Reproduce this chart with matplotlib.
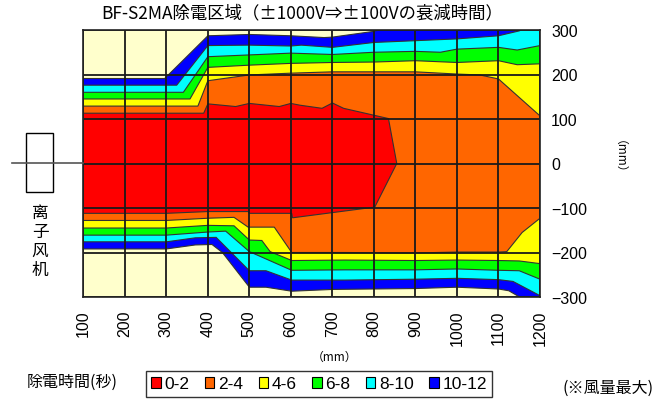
import matplotlib
matplotlib.use("Agg")
import matplotlib.pyplot as plt
import numpy as np
from matplotlib.patches import Patch, Rectangle
from matplotlib.lines import Line2D

plt.rcParams['font.family'] = ['Noto Sans CJK JP', 'DejaVu Sans']

# ---------------- data ----------------
levels = ['0-2', '2-4', '4-6', '6-8', '8-10', '10-12']
colors = ['#FF0000', '#FF6600', '#FFFF00', '#00FF00', '#00FFFF', '#0000FF']
x_ticks = [100, 200, 300, 400, 500, 600, 700, 800, 900, 1000, 1100, 1200]
y_ticks = [300, 200, 100, 0, -100, -200, -300]

# 0-2 s region (red)
red_top_x = [100, 390, 400, 467, 500, 572, 600, 622, 675, 700, 727, 835, 855]
red_top_y = [113, 113, 134, 128, 135, 128, 135, 131, 124, 136, 124, 101, 0]
red_bot_x = [100, 300, 400, 497, 500, 602, 604, 703, 802]
red_bot_y = [-112, -112, -108, -108, -112, -112, -122, -110, -98]

# 2-4 s region (orange)
orange_top_x = [100, 376, 400, 500, 600, 700, 900, 1000, 1055, 1100, 1200]
orange_top_y = [129, 129, 186, 199, 203, 206, 206, 201, 199, 190, 107]
orange_bot_x = [100, 300, 400, 463, 497, 560, 602, 730, 900, 1000, 1100, 1120, 1157, 1200]
orange_bot_y = [-128, -128, -123, -121, -143, -143, -200, -200, -201, -199, -199, -198, -155, -123]

# 4-6 s region (yellow)
yellow_top_x = [100, 357, 400, 500, 600, 700, 800, 900, 1000, 1100, 1145, 1200]
yellow_top_y = [145, 145, 216, 221, 225, 227, 228, 231, 227, 231, 222, 224]
yellow_bot_x = [100, 300, 400, 463, 500, 530, 550, 602, 730, 900, 1000, 1100, 1150, 1200]
yellow_bot_y = [-145, -145, -139, -140, -172, -173, -198, -218, -217, -218, -217, -218, -219, -225]

# 6-8 s region (green)
green_top_x = [100, 341, 400, 500, 600, 700, 800, 900, 960, 1000, 1100, 1145, 1200]
green_top_y = [160, 160, 240, 244, 248, 245, 250, 252, 250, 257, 261, 255, 265]
green_bot_x = [100, 300, 400, 443, 500, 602, 730, 900, 1000, 1100, 1150, 1200]
green_bot_y = [-161, -161, -154, -152, -198, -240, -239, -239, -237, -240, -241, -260]

# 8-10 s region (cyan)
cyan_top_x = [100, 325, 400, 500, 600, 625, 700, 800, 900, 1000, 1100, 1150, 1165, 1200]
cyan_top_y = [176, 176, 265, 266, 264, 266, 261, 272, 276, 280, 287, 298, 305, 310]
cyan_bot_x = [100, 300, 370, 420, 500, 540, 602, 730, 900, 1000, 1100, 1135, 1200]
cyan_bot_y = [-176, -176, -167, -166, -241, -241, -262, -262, -260, -258, -261, -265, -297]

# 10-12 s region (blue)
blue_top_x = [100, 296, 400, 500, 600, 680, 700, 800, 830, 1200]
blue_top_y = [191, 191, 287, 290, 287, 283, 284, 297, 305, 310]
blue_bot_x = [100, 300, 370, 410, 435, 500, 540, 602, 700, 900, 1000, 1100, 1125, 1160, 1200]
blue_bot_y = [-192, -192, -183, -182, -200, -278, -278, -287, -283, -281, -278, -282, -286, -305, -310]

regions = [
    (blue_top_x, blue_top_y, blue_bot_x, blue_bot_y, colors[5]),
    (cyan_top_x, cyan_top_y, cyan_bot_x, cyan_bot_y, colors[4]),
    (green_top_x, green_top_y, green_bot_x, green_bot_y, colors[3]),
    (yellow_top_x, yellow_top_y, yellow_bot_x, yellow_bot_y, colors[2]),
    (orange_top_x, orange_top_y, orange_bot_x, orange_bot_y, colors[1]),
    (red_top_x, red_top_y, red_bot_x, red_bot_y, colors[0]),
]

# ---------------- figure ----------------
W, H = 669, 402
fig = plt.figure(figsize=(W / 100, H / 100), dpi=100)
fig.patch.set_facecolor('white')

ax = fig.add_axes([83.3 / W, 1 - 298 / H, (540 - 83.3) / W, (298 - 31) / H])
ax.set_facecolor('#FFFFCC')

for tx, ty, bx, by, c in regions:
    px = list(tx) + list(bx)[::-1]
    py = list(ty) + list(by)[::-1]
    ax.fill(px, py, facecolor=c, edgecolor='#333333', linewidth=0.8, zorder=2)

tick_font = ['Liberation Sans', 'DejaVu Sans']
ax.set_xlim(100, 1200)
ax.set_ylim(-300, 300)
ax.set_xticks(x_ticks)
ax.set_yticks(y_ticks)
ax.set_xticklabels([str(v) for v in x_ticks], rotation=90, fontsize=11.5, family=tick_font)
ax.set_yticklabels([str(v).replace('-', '\u2212') for v in y_ticks], fontsize=11.5, family=tick_font)
ax.yaxis.tick_right()
ax.tick_params(axis='both', length=0)
ax.tick_params(axis='x', pad=9)
ax.tick_params(axis='y', pad=8)
ax.grid(True, color='#1a1a1a', linewidth=1.3, zorder=3)
ax.set_axisbelow(False)
for s in ax.spines.values():
    s.set_color('#222222')
    s.set_linewidth(1.2)
    s.set_zorder(4)

# title
fig.text(302 / W, 1 - 13 / H, 'BF-S2MA除電区域（±1000V⇒±100Vの衰減時間）',
         ha='center', va='center', fontsize=12.5)

# axis unit labels
fig.text(335 / W, 1 - 357 / H, '（mm）', ha='center', va='center', fontsize=8.5)
fig.text(613 / W, 1 - 163 / H, '（mm）', ha='center', va='center', fontsize=8.5, rotation=270)

# ion fan sketch
fig.add_artist(Line2D([12 / W, 83 / W], [1 - 163.5 / H, 1 - 163.5 / H],
                      transform=fig.transFigure, color='#555555', linewidth=1.2))
fig.add_artist(Rectangle((26 / W, 1 - 193 / H), 27 / W, 59 / H, transform=fig.transFigure,
                         facecolor='none', edgecolor='black', linewidth=1.0))
for i, ch in enumerate('离子风机'):
    fig.text(40 / W, 1 - (213 + i * 19) / H, ch, ha='center', va='center',
             fontsize=12, family=['Noto Sans CJK SC', 'DejaVu Sans'])

# legend
fig.text(72 / W, 1 - 382 / H, '除電時間(秒)', ha='center', va='center', fontsize=11.5)
handles = [Patch(facecolor=c, edgecolor='black', linewidth=0.8) for c in colors]
leg = fig.legend(handles, levels, loc='center', bbox_to_anchor=(319 / W, 1 - 385 / H),
                 ncol=6, prop={'family': tick_font, 'size': 12.5}, frameon=True, fancybox=False,
                 handlelength=0.55, handleheight=0.55, handletextpad=0.2,
                 columnspacing=0.9, borderpad=0.3, borderaxespad=0)
leg.get_frame().set_edgecolor('black')
leg.get_frame().set_linewidth(1.0)
fig.text(608 / W, 1 - 388 / H, '(※風量最大)', ha='center', va='center', fontsize=11.5)

fig.savefig('out.png', dpi=100)
